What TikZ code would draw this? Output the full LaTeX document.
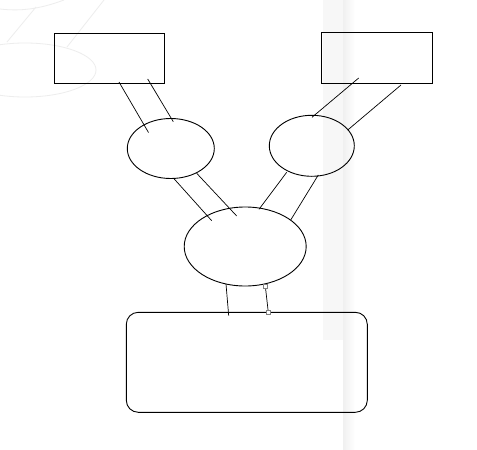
\documentclass[tikz,border=0pt]{standalone}
\usetikzlibrary{shapes.geometric}
\begin{document}
\begin{tikzpicture}[x=1pt,y=-1pt,
  box/.style={draw=black,line width=0.9pt,inner sep=0pt,minimum width=110pt,minimum height=50pt},
  oval/.style={draw=black,line width=0.9pt,ellipse,inner sep=0pt},
  rbox/.style={draw=black,line width=0.9pt,rounded corners=12pt,inner sep=0pt,minimum width=241pt,minimum height=100pt},
  link/.style={draw=black,line width=0.7pt},
  ghost/.style={draw=black!7,line width=0.8pt},
  handle/.style={draw=black!50,fill=white,line width=0.6pt,inner sep=0pt,minimum size=4pt}]
\useasboundingbox (0,0) rectangle (477,450);
\fill[white] (0,0) rectangle (477,450);
% faint background
\fill[black!3] (323,0) rectangle (343,340);
\shade[left color=black!6,right color=white] (343,0) rectangle (355,450);
\draw[ghost] (25,70) ellipse [x radius=71,y radius=27];
\draw[ghost] (0,9) .. controls (25,12) and (45,7) .. (64,0);
\draw[ghost] (36,7) -- (7,42);
\draw[ghost] (104,0) -- (67,47);
% nodes
\node[box] (r1) at (109,58) {};
\node[box,minimum width=111pt,minimum height=51pt] (r2) at (376.5,57.5) {};
\node[oval,minimum width=87pt,minimum height=60pt] (e1) at (170.8,148.5) {};
\node[oval,minimum width=85pt,minimum height=61pt] (e2) at (311.8,145.8) {};
\node[oval,minimum width=122pt,minimum height=79pt] (e3) at (245.2,246.5) {};
\node[rbox] (rr) at (246.8,362.3) {};
% connector end points
\coordinate (a1) at (119,82);    \coordinate (a2) at (148.5,132.5);
\coordinate (b1) at (147.7,79);  \coordinate (b2) at (173.3,121.7);
\coordinate (c1) at (174,178.7); \coordinate (c2) at (211.7,220.7);
\coordinate (d1) at (196.7,173.3); \coordinate (d2) at (236.7,216);
\coordinate (f1) at (358.7,78);  \coordinate (f2) at (312,117.3);
\coordinate (g1) at (401,85);    \coordinate (g2) at (347.7,130);
\coordinate (h1) at (286.7,172.3); \coordinate (h2) at (259,209.3);
\coordinate (k1) at (318.3,175); \coordinate (k2) at (290.7,220);
\coordinate (m1) at (226,284);   \coordinate (m2) at (228.7,315.7);
\coordinate (n1) at (265.3,286); \coordinate (n2) at (268.3,312.3);
% connectors
\draw[link] (a1) -- (a2);
\draw[link] (b1) -- (b2);
\draw[link] (c1) -- (c2);
\draw[link] (d1) -- (d2);
\draw[link] (f1) -- (f2);
\draw[link] (g1) -- (g2);
\draw[link] (h1) -- (h2);
\draw[link] (k1) -- (k2);
\draw[link] (m1) -- (m2);
\draw[link] (n1) -- (n2);
\node[handle] (hn1) at (n1) {};
\node[handle] (hn2) at (n2) {};
\end{tikzpicture}
\end{document}
